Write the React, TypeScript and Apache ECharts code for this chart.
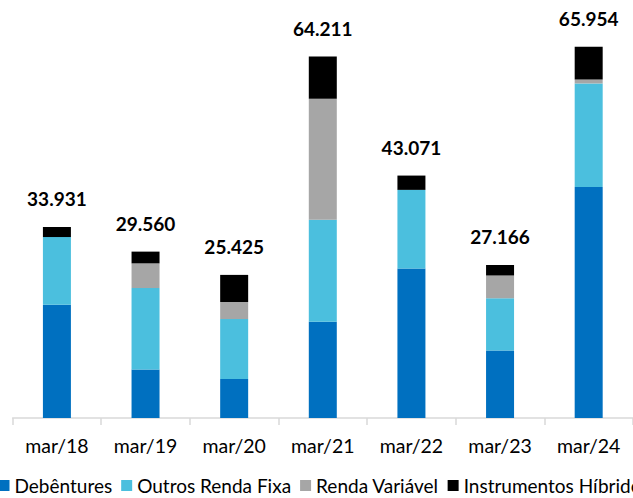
import React, { useEffect, useRef } from "react";
import * as echarts from "echarts";

const categories = ["mar/18", "mar/19", "mar/20", "mar/21", "mar/22", "mar/23", "mar/24"];
const debentures = [20100, 8600, 6950, 17110, 26540, 12000, 41020];
const outrosRendaFixa = [12050, 14490, 10630, 18130, 13990, 9280, 18420];
const rendaVariavel = [0, 4380, 3030, 21500, 0, 4050, 710];
const instrumentosHibridos = [1781, 2090, 4815, 7471, 2541, 1836, 5804];
const totals = [33931, 29560, 25425, 64211, 43071, 27166, 65954];
const seriesNames = ["Debêntures", "Outros Renda Fixa", "Renda Variável", "Instrumentos Híbridos"];

const FONT = "Lato";

function fmt(n: number): string {
  return String(n).replace(/\B(?=(\d{3})+(?!\d))/g, ".");
}

export default function App() {
  const ref = useRef<HTMLDivElement>(null);
  useEffect(() => {
    document.body.style.margin = "0";
    const chart = echarts.init(ref.current!, null, { renderer: "svg" });
    const barW = 28;
    chart.setOption({
      animation: false,
      backgroundColor: "#ffffff",
      grid: { left: 12.6, width: 621.6, top: 24, bottom: 80, containLabel: false },
      legend: {
        left: -6.5,
        top: 471,
        width: 1000,
        itemWidth: 11,
        itemHeight: 11,
        itemGap: 9,
        icon: "rect",
        textStyle: { fontFamily: FONT, fontSize: 19, color: "#000" },
        data: seriesNames,
      },
      xAxis: {
        type: "category",
        data: categories,
        boundaryGap: true,
        axisLine: { show: true, lineStyle: { color: "#d9d9d9", width: 1.5 } },
        axisTick: { show: true, length: 7, lineStyle: { color: "#d9d9d9", width: 1.5 } },
        axisLabel: { margin: 17, fontFamily: FONT, fontSize: 19.5, color: "#000" },
      },
      yAxis: {
        type: "value",
        min: 0,
        max: 70000,
        show: false,
        splitLine: { show: false },
      },
      series: [
        { name: seriesNames[0], type: "bar", stack: "t", barWidth: barW, data: debentures, itemStyle: { color: "#0070C0" } },
        { name: seriesNames[1], type: "bar", stack: "t", barWidth: barW, data: outrosRendaFixa, itemStyle: { color: "#4BBFDE" } },
        { name: seriesNames[2], type: "bar", stack: "t", barWidth: barW, data: rendaVariavel, itemStyle: { color: "#A6A6A6" } },
        {
          name: seriesNames[3],
          type: "bar",
          stack: "t",
          barWidth: barW,
          data: instrumentosHibridos,
          itemStyle: { color: "#000000" },
          label: {
            show: true,
            position: "top",
            distance: 19,
            fontFamily: FONT,
            fontWeight: "bold",
            fontSize: 19,
            color: "#000",
            formatter: (p: any) => fmt(totals[p.dataIndex]),
          },
        },
      ],
    });
    return () => chart.dispose();
  }, []);
  return <div ref={ref} style={{ width: 633, height: 498 }} />;
}
